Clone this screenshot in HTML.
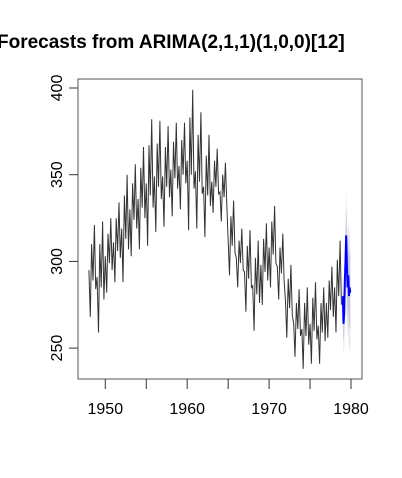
<!DOCTYPE html>
<html><head><meta charset="utf-8"><style>
html,body{margin:0;padding:0;background:#fff;}
svg{display:block;font-family:"Liberation Sans",Arial,sans-serif;}
</style></head><body>
<svg id="chart" width="402" height="478">
<text x="-3" y="48" font-size="19" font-weight="bold" fill="#000">Forecasts from ARIMA(2,1,1)(1,0,0)[12]</text>
<g id="bands"></g><g id="series"></g><g id="axes"></g>
</svg>
<script>
const years = [1948,1949,1950,1951,1952,1953,1954,1955,1956,1957,1958,1959,1960,1961,1962,1963,1964,1965,1966,1967,1968,1969,1970,1971,1972,1973,1974,1975,1976,1977,1978];
const history = [
295,268,310,289,321,284, 291,259,310,285,323,278, 303,282,316,299,325,295, 311,288,325,306,334,302,
319,288,338,313,350,307, 330,303,345,324,356,319, 336,307,354,331,366,325, 345,309,367,338,382,331,
349,317,368,343,381,336, 349,320,366,343,378,337, 353,326,369,348,380,342, 355,330,370,350,380,345,
358,318,383,350,399,342, 352,319,373,346,386,339, 343,314,361,338,373,332, 346,328,358,343,365,339,
340,323,350,337,357,333, 313,292,326,309,335,305, 302,285,312,299,319,295, 294,271,309,290,318,285,
286,260,302,281,312,276, 298,275,313,294,322,289, 308,285,323,304,332,299, 297,278,308,293,316,289,
277,256,290,273,298,269, 264,245,276,261,284,257, 261,238,276,257,285,252, 264,241,279,260,288,255,
263,241,276,259,285,254, 276,256,289,272,297,268, 285,259,301,280,312,275];
const forecast = [280,264,270,290,300,315,298,285,292,280,285,282];
const lo80 = [272,254,258,276,285,299,281,267,273,260,264,260];
const hi80 = [288,274,282,304,315,331,315,303,311,300,306,304];
const lo95 = [266,247,250,267,275,289,270,256,261,248,251,247];
const hi95 = [294,281,290,313,325,341,326,314,323,312,319,317];
const xTicks = [1950,1960,1970,1980];
const yTicks = [250,300,350,400];

const NS="http://www.w3.org/2000/svg";
const X = t => 105.3 + (t-1950)*8.19;
const Y = v => 88 + (400-v)*1.734;
function el(tag, attrs, parent){const e=document.createElementNS(NS,tag);for(const k in attrs)e.setAttribute(k,attrs[k]);parent.appendChild(e);return e;}
const gB=document.getElementById('bands'), gS=document.getElementById('series'), gA=document.getElementById('axes');
const ft = i => 1979 + i/12;
function band(lo,hi,fill,name){
  let d='M'+lo.map((v,i)=>X(ft(i)).toFixed(1)+','+Y(v).toFixed(1)).join('L');
  for(let i=hi.length-1;i>=0;i--) d+='L'+X(ft(i)).toFixed(1)+','+Y(hi[i]).toFixed(1);
  const p=el('path',{d:d+'Z',fill:fill},gB);
  
  
}
band(lo95,hi95,'#e6e6ee','interval-95');
band(lo80,hi80,'#c8c8dc','interval-80');
const step=1/6;
let hd=history.map((v,i)=>(i?'L':'M')+X(years[0]+i*step).toFixed(1)+','+Y(v).toFixed(1)).join('');
const hp=el('path',{d:hd,fill:'none',stroke:'#333',"stroke-width":1},gS);


let fd=forecast.map((v,i)=>(i?'L':'M')+X(ft(i)).toFixed(1)+','+Y(v).toFixed(1)).join('');
const fp=el('path',{d:fd,fill:'none',stroke:'#0000ff',"stroke-width":2},gS);


const box=el('rect',{x:78,y:79,width:284,height:300,fill:'none',stroke:'#555',"stroke-width":1},gA);


xTicks.forEach(t=>{
  const l=el('line',{x1:X(t),x2:X(t),y1:379,y2:389,stroke:'#333'},gA);
  
  
  const tx=el('text',{x:X(t),y:414,"font-size":16,"text-anchor":"middle",fill:'#000'},gA);
  tx.textContent=t;
  
  
});
[1955,1965,1975].forEach(t=>{
  const l=el('line',{x1:X(t),x2:X(t),y1:379,y2:389,stroke:'#333'},gA);
  
  
});
yTicks.forEach(v=>{
  const l=el('line',{x1:69,x2:78,y1:Y(v),y2:Y(v),stroke:'#333'},gA);
  
  
  const tx=el('text',{x:0,y:0,"font-size":16,"text-anchor":"middle",fill:'#000',transform:`translate(62,${Y(v)}) rotate(-90)`},gA);
  tx.textContent=v;
  
  
});
</script>
</body></html>
